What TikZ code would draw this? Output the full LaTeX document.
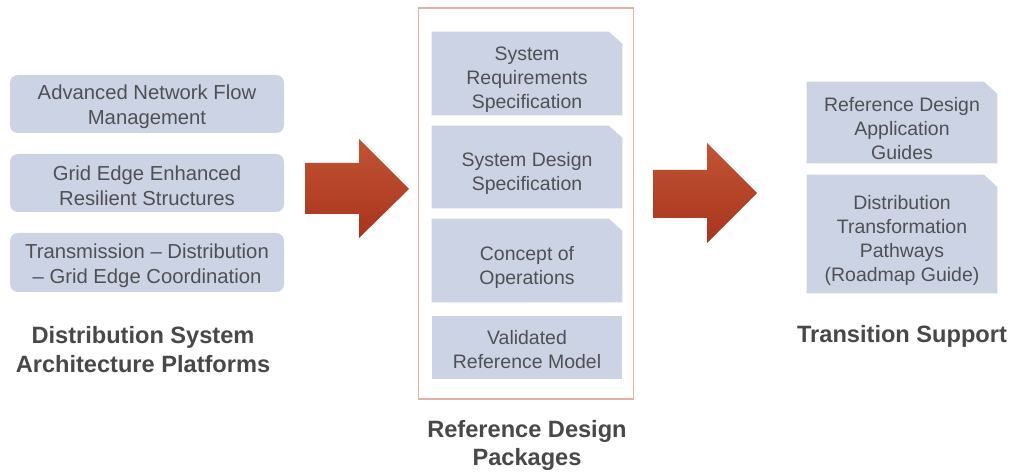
\documentclass[tikz,border=0pt]{standalone}
\usepackage{fontspec}
\setmainfont{Liberation Sans}
\definecolor{boxfill}{RGB}{204,211,229}
\definecolor{txt}{RGB}{80,80,84}
\definecolor{lbl}{RGB}{72,72,74}
\definecolor{frame}{RGB}{228,176,166}
\definecolor{arrowtop}{RGB}{194,84,52}
\definecolor{arrowbot}{RGB}{168,52,28}
\pgfdeclarelayer{background}
\pgfsetlayers{background,main}
\newcommand\snipfill[1]{%
  \begin{pgfonlayer}{background}
  \fill[boxfill] (#1.south west) -- (#1.north west) -- ([xshift=-10pt]#1.north east)
     -- ([yshift=-9pt]#1.north east) -- (#1.south east) -- cycle;
  \end{pgfonlayer}}
\tikzset{
  rbox/.style={rectangle, rounded corners=6pt, fill=boxfill, inner sep=0pt, minimum width=205.5pt},
  cbox/.style={rectangle, inner sep=0pt, minimum width=142.5pt},
  pbox/.style={rectangle, fill=boxfill, inner sep=0pt, minimum width=142.5pt},
  ltext/.style={text=txt, align=center, inner sep=0pt, font=\fontsize{15.2pt}{18.8pt}\selectfont},
  ctext/.style={text=txt, align=center, inner sep=0pt, font=\fontsize{14.6pt}{18pt}\selectfont},
  grouplabel/.style={text=lbl, align=center, font=\bfseries\fontsize{17.7pt}{21.5pt}\selectfont},
  bigarrow/.style={top color=arrowtop, bottom color=arrowbot, draw=none}
}
\begin{document}
\begin{tikzpicture}[x=0.75pt,y=-0.75pt]
\useasboundingbox (0,0) rectangle (1015,473);
\begin{pgfonlayer}{background}
\fill[white] (0,0) rectangle (1015,473);
\end{pgfonlayer}
% left column
\node[rbox, minimum height=43.5pt] (a1) at (147,104) {};
\node[ltext] (a1t) at ([yshift=-2.25pt]a1.center) {Advanced Network Flow\\Management};
\node[rbox, minimum height=43.5pt] (a2) at (147,183) {};
\node[ltext] (a2t) at ([yshift=-2.25pt]a2.center) {Grid Edge Enhanced\\Resilient Structures};
\node[rbox, minimum height=44.25pt] (a3) at (147,262.5) {};
\node[ltext] (a3t) at ([yshift=-2.25pt]a3.center) {Transmission -- Distribution\\-- Grid Edge Coordination};
\node[grouplabel] (la) at (143,349.5) {Distribution System\\Architecture Platforms};
% center column
\draw[frame, line width=0.8pt] (418.5,8) rectangle (633.5,399);
\node[cbox, minimum height=62.25pt] (b1) at (527,73.5) {};
\snipfill{b1}
\node[ctext] (b1t) at ([yshift=-4.9pt]b1.center) {System\\Requirements\\Specification};
\node[cbox, minimum height=61.5pt] (b2) at (527,167) {};
\snipfill{b2}
\node[ctext] (b2t) at ([yshift=-4.9pt]b2.center) {System Design\\Specification};
\node[cbox, minimum height=62.25pt] (b3) at (527,260.5) {};
\snipfill{b3}
\node[ctext] (b3t) at ([yshift=-4.9pt]b3.center) {Concept of\\Operations};
\node[pbox, minimum height=47.25pt] (b4) at (527,347.5) {};
\node[ctext] (b4t) at ([yshift=-1.9pt]b4.center) {Validated\\Reference Model};
\node[grouplabel] (lb) at (527,445.5) {Reference Design\\Packages};
% right column
\node[cbox, minimum height=60.75pt] (c1) at (902,122.5) {};
\snipfill{c1}
\node[ctext] (c1t) at ([yshift=-4.5pt]c1.center) {Reference Design\\Application\\Guides};
\node[cbox, minimum height=88.5pt] (c2) at (902,234) {};
\snipfill{c2}
\node[ctext] (c2t) at ([yshift=-4.5pt]c2.center) {Distribution\\Transformation\\Pathways\\(Roadmap Guide)};
\node[grouplabel] (lc) at (902,336) {Transition Support};
% arrows
\shade[bigarrow] (305,163) -- (359,163) -- (359,139) -- (409,189) -- (359,238) -- (359,214) -- (305,214) -- cycle;
\shade[bigarrow] (653,170) -- (707,170) -- (707,143) -- (757,193) -- (707,243) -- (707,218) -- (653,218) -- cycle;
\end{tikzpicture}
\end{document}
